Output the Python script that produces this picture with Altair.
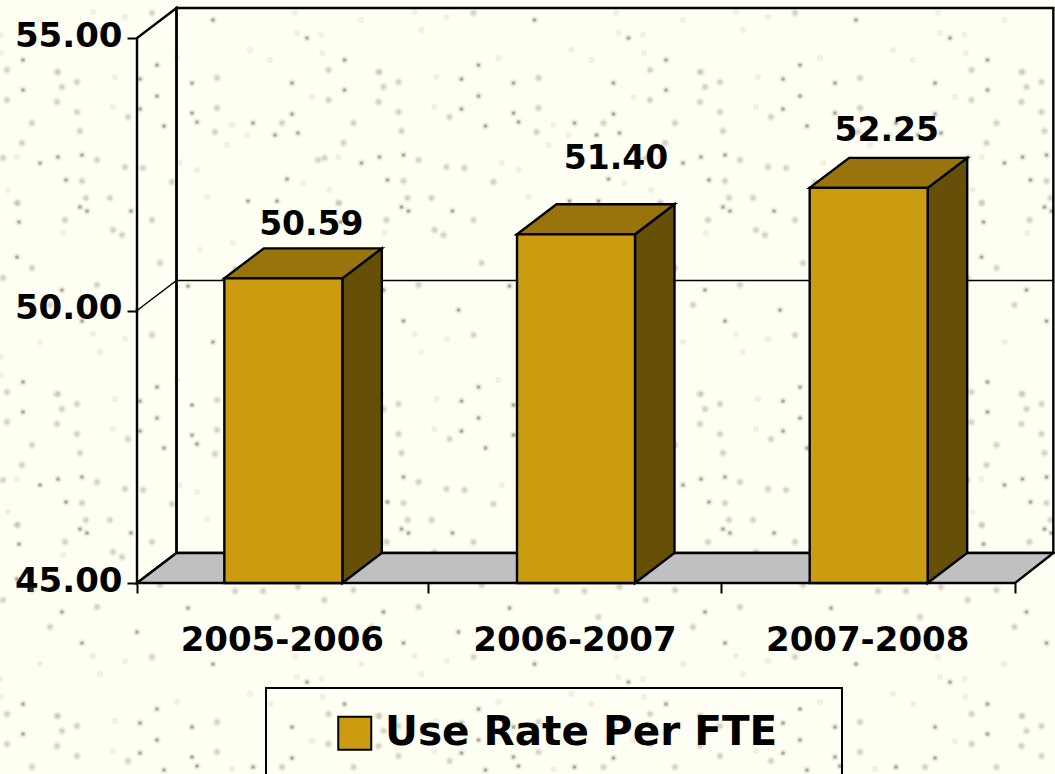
import altair as alt
import pandas as pd

categories = ["2005-2006", "2006-2007", "2007-2008"]
values = [50.59, 51.40, 52.25]
y_ticks = [45, 50, 55]
series_name = "Use Rate Per FTE"
label_offsets = [(28, -43), (40, -65), (18, -47)]

FONT = "DejaVu Sans"
GOLD, TOP, SIDE = "#CB9B10", "#99730C", "#665008"
FLOOR = "#C0C0C0"
PAPER = "#FFFFF3"

# texture: one repeating tile of specks (tile pixels)
speck_dark = [(307,38),(292,83),(292,114),(140,79),(140,109),(197,122),(164,126),(66,180),(23,60),(23,90),
              (157,65),(157,96),(87,211),(287,179),(19,222),(58,157),(213,20),(82,155),(40,163),(192,83),
              (192,113),(131,211),(80,207),(298,133),(253,123),(275,135),(17,257),(248,201),(277,201),
              (188,286),(62,290),(137,310),(82,321)]
speck_mid = [(152,13),(215,132),(318,160),(125,167),(143,168),(172,182),(110,198),(86,198),(32,268),(152,220),
             (217,78),(217,108),(160,263),(97,160),(282,123),(65,220),(58,72),(77,82),(77,112),(128,117),
             (32,123),(80,131),(22,143),(3,158),(17,203),(97,285),(7,70),(7,100),(62,87),(57,102),(113,230),
             (122,235),(82,181),(3,278),(235,269),(263,269),(298,265),(277,295),(50,305)]
speck_pale = [(297,33),(232,125),(247,135),(312,97),(56,72),(177,58),(180,163),(197,170),(207,197),(17,157),
              (227,145),(303,183),(8,190),(18,203),(233,243),(200,250),(115,77),(113,107),(93,12),(125,17),
              (295,13),(0,35),(1,53),(63,233),(270,60),(40,20),(250,50),(100,30)]

W, H = 1055, 774
X0, UX = 137.0, 292.67      # pixel of x=0, pixels per category
Y0, UY = 583.0, 54.5        # pixel of y=45, pixels per value unit
x_dom = [-X0 / UX, (W - X0) / UX]
y_dom = [45 - (H - Y0) / UY, 45 + Y0 / UY]
DX, DY = 39.5 / UX, 30 / UY  # 3D depth
HALF = 0.2016
XEND = 3 + DX - 0.004
LINE = 2.4

xs = alt.Scale(domain=x_dom, range=[0, W], nice=False, zero=False)
ys = alt.Scale(domain=y_dom, range=[H, 0], nice=False, zero=False)
x_axis = alt.Axis(values=[0, 0.996, 1.996, 3], labels=False, domain=False, grid=False, ticks=True, tickSize=10, tickWidth=2,
                  tickColor="black", offset=-(H - Y0), orient="bottom", title=None)
y_axis = alt.Axis(values=y_ticks, format=".2f", domain=False, grid=False, ticks=True, tickSize=10, tickWidth=2,
                  tickColor="black", offset=-X0, orient="left", title=None, labelFont=FONT, labelFontWeight="bold",
                  labelFontSize=34, labelColor="black", labelPadding=5, labelOffset=-2)
X = alt.X("x:Q", scale=xs, axis=x_axis, title=None)
Y = alt.Y("y:Q", scale=ys, axis=y_axis, title=None)

# ---------- background specks
rows = []
for cls, lst in (("dark", speck_dark), ("mid", speck_mid), ("pale", speck_pale)):
    for (sx, sy) in lst:
        for i in range(0, 4):
            for j in range(0, 3):
                px, py = sx + i * 321.5, sy + j * 322
                if px <= W and py <= H:
                    rows.append({"x": (px - X0) / UX, "y": 45 + (Y0 - py) / UY, "cls": cls})
specks = pd.DataFrame(rows)
speck_layers = [
    alt.Chart(specks[specks.cls == c]).mark_circle(color=col, opacity=op, size=sz, stroke=None).encode(x=X, y=Y)
    for c, col, op, sz in (("pale", "#8f8f80", 0.13, 40), ("mid", "#8a8a7a", 0.14, 70), ("mid", "#7c7c6c", 0.22, 22),
                           ("dark", "#8a8a7a", 0.16, 55), ("dark", "#5e5e50", 0.45, 14))
]

# ---------- polygons
def poly(pts, pid):
    return [{"x": a, "y": b, "o": k, "pid": pid} for k, (a, b) in enumerate(pts)]

def closed(pts, fill=None, width=LINE):
    df = pd.DataFrame(poly(pts, "p"))
    kw = {"fill": fill} if fill else {}
    return alt.Chart(df).mark_line(interpolate="linear-closed", stroke="black", strokeWidth=width,
                                   clip=False, **kw).encode(
        x=X, y=Y, order="o:Q")

def opened(pts, width=1.5):
    df = pd.DataFrame(poly(pts, "p"))
    return alt.Chart(df).mark_line(stroke="black", strokeWidth=width).encode(x=X, y=Y, order="o:Q")

wall = closed([(DX, 45 + DY), (XEND, 45 + DY), (XEND, 55 + DY), (DX, 55 + DY)])
side_wall = closed([(0, 45), (DX, 45 + DY), (DX, 55 + DY), (0, 55)])
grid = opened([(0, 50), (DX, 50 + DY), (XEND, 50 + DY)])
floor = closed([(0, 45), (3, 45), (XEND, 45 + DY), (DX, 45 + DY)], fill=FLOOR)

faces = []
for i, v in enumerate(values):
    c = i + 0.5
    l, r = c - HALF, c + HALF
    faces.append(closed([(r, 45), (r + DX, 45 + DY), (r + DX, v + DY), (r, v)], fill=SIDE))
    faces.append(closed([(l, v), (r, v), (r + DX, v + DY), (l + DX, v + DY)], fill=TOP))

# ---------- front faces and legend
df_bar = pd.DataFrame({
    "x": [i + 0.5 - HALF for i in range(3)],
    "x2": [i + 0.5 + HALF for i in range(3)],
    "y": values,
    "y2": [45, 45, 45],
    "series": [series_name] * 3,
})
front = alt.Chart(df_bar).mark_bar(stroke="black", strokeWidth=LINE, clip=False).encode(
    x=X,
    x2="x2:Q",
    y=Y,
    y2="y2:Q",
    color=alt.Color("series:N", scale=alt.Scale(domain=[series_name], range=[GOLD]), legend=alt.Legend(
        orient="none", legendX=334.5, legendY=713, title=None, padding=0, symbolType="square", symbolSize=1089,
        symbolStrokeColor="black", symbolStrokeWidth=2, symbolOpacity=1, symbolFillColor=GOLD,
        labelFont=FONT, labelFontWeight="bold", labelFontSize=40.5, labelColor="black", labelOffset=10,
        labelLimit=600)),
)

# ---------- legend frame
legend_box = closed([((266 - X0) / UX, 45 + (Y0 - 800) / UY),
                     ((842 - X0) / UX, 45 + (Y0 - 800) / UY),
                     ((842 - X0) / UX, 45 + (Y0 - 688) / UY),
                     ((266 - X0) / UX, 45 + (Y0 - 688) / UY)], width=2)

# ---------- texts
text_kw = dict(font=FONT, fontWeight="bold", fontSize=33, color="black", align="center", baseline="alphabetic")
cat_df = pd.DataFrame({"x": [i + 0.5 for i in range(3)], "y": [45] * 3, "t": categories})
cat_text = alt.Chart(cat_df).mark_text(dy=68, dx=-1, **{**text_kw, "fontSize": 34}).encode(x=X, y=Y, text="t:N")
val_layers = []
for i, v in enumerate(values):
    d = pd.DataFrame({"x": [i + 0.5], "y": [v], "t": [f"{v:.2f}"]})
    val_layers.append(alt.Chart(d).mark_text(dx=label_offsets[i][0], dy=label_offsets[i][1], **text_kw)
                      .encode(x=X, y=Y, text="t:N"))

chart = alt.layer(
    *speck_layers, wall, side_wall, grid, floor, legend_box, *faces, front, cat_text, *val_layers
).properties(
    width=W, height=H, padding=0, autosize=alt.AutoSizeParams(type="none"), background=PAPER
).configure_view(stroke=None)

chart.save("out.html", embed_options={
    "renderer": "svg", "actions": False,
    "defaultStyle": "html,body{margin:0;padding:0;background:#FFFFF3;overflow:hidden} svg{display:block}",
})
